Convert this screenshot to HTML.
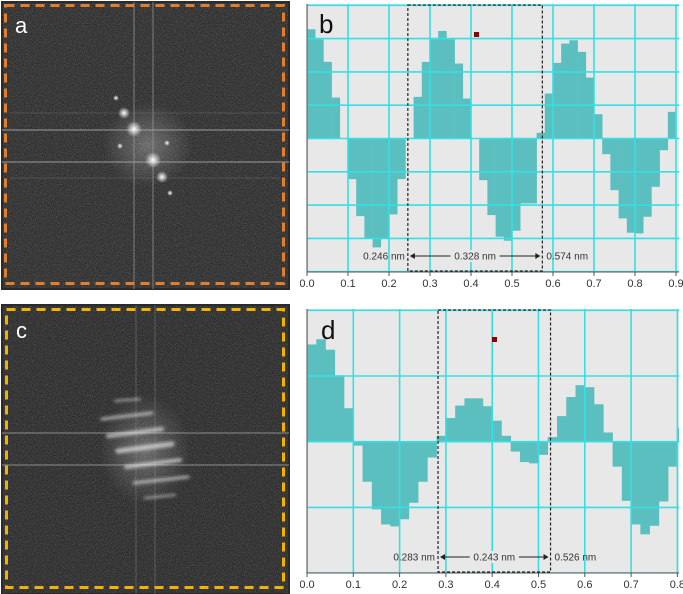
<!DOCTYPE html>
<html><head><meta charset="utf-8"><style>
html,body{margin:0;padding:0;background:#fff;width:683px;height:594px;overflow:hidden}
svg{display:block;font-family:"Liberation Sans",sans-serif}
</style></head><body>
<svg id="root" width="683" height="594" viewBox="0 0 683 594">
<defs>
<filter id="noise" x="0" y="0" width="100%" height="100%">
<feTurbulence type="fractalNoise" baseFrequency="0.9" numOctaves="2" seed="3"/>
<feColorMatrix type="matrix" values="0 0 0 0 0  0 0 0 0 0  0 0 0 0 0  0.9 0 0 0 -0.35"/>
</filter>
<filter id="noiseW" x="0" y="0" width="100%" height="100%">
<feTurbulence type="fractalNoise" baseFrequency="0.9" numOctaves="2" seed="7"/>
<feColorMatrix type="matrix" values="0 0 0 0 1  0 0 0 0 1  0 0 0 0 1  0.9 0 0 0 -0.42"/>
</filter>
<filter id="soft" x="-20%" y="-20%" width="140%" height="140%"><feGaussianBlur stdDeviation="1.6"/></filter>
<radialGradient id="glowA"><stop offset="0" stop-color="#fff" stop-opacity="0.28"/><stop offset="1" stop-color="#fff" stop-opacity="0"/></radialGradient>
<radialGradient id="spot"><stop offset="0" stop-color="#fff" stop-opacity="1"/><stop offset="0.4" stop-color="#fff" stop-opacity="0.6"/><stop offset="1" stop-color="#fff" stop-opacity="0"/></radialGradient>
<clipPath id="clipB"><rect x="307" y="4" width="372" height="268"/></clipPath>
<clipPath id="clipD"><rect x="307" y="309" width="372" height="264"/></clipPath>
<clipPath id="clipBT"><rect x="300" y="272" width="383" height="22"/></clipPath>
<clipPath id="clipDT"><rect x="300" y="573" width="383" height="21"/></clipPath>
</defs>

<!-- Panel a -->
<g>
<rect x="1" y="1" width="289" height="289" fill="#2a2a2a"/>
<rect x="3" y="3" width="285" height="285" fill="#3b3b3b"/>
<rect x="3" y="3" width="285" height="285" filter="url(#noise)"/>
<rect x="3" y="3" width="285" height="285" filter="url(#noiseW)" opacity="0.5"/>
<ellipse cx="148" cy="145" rx="45" ry="42" fill="url(#glowA)"/>
<line x1="2" y1="130" x2="289" y2="130" stroke="#aaa" stroke-width="1.3" opacity="0.7"/>
<line x1="2" y1="162" x2="289" y2="162" stroke="#aaa" stroke-width="1.3" opacity="0.7"/>
<line x1="134" y1="2" x2="134" y2="289" stroke="#999" stroke-width="1.2" opacity="0.6"/>
<line x1="153" y1="2" x2="153" y2="289" stroke="#999" stroke-width="1.2" opacity="0.6"/>
<line x1="10" y1="113" x2="280" y2="113" stroke="#888" stroke-width="1" opacity="0.3"/>
<line x1="10" y1="178" x2="280" y2="178" stroke="#888" stroke-width="1" opacity="0.3"/>
<circle cx="124" cy="113" r="6" fill="url(#spot)"/>
<circle cx="134" cy="129" r="8" fill="url(#spot)"/>
<circle cx="153" cy="160" r="8" fill="url(#spot)"/>
<circle cx="162" cy="177" r="6" fill="url(#spot)"/>
<circle cx="116" cy="98" r="3" fill="url(#spot)"/>
<circle cx="170" cy="193" r="3" fill="url(#spot)"/>
<circle cx="120" cy="146" r="3" fill="url(#spot)"/>
<circle cx="167" cy="143" r="3" fill="url(#spot)"/>
<rect x="5.5" y="5.5" width="278" height="278" fill="none" stroke="#e07f2d" stroke-width="3" stroke-dasharray="9,6"/>
<text x="15" y="33" font-size="22" fill="#fff">a</text>
</g>

<!-- Panel c -->
<g>
<rect x="1" y="304" width="289" height="290" fill="#2a2a2a"/>
<rect x="3" y="306" width="285" height="287" fill="#383838"/>
<rect x="3" y="306" width="285" height="287" filter="url(#noise)"/>
<rect x="3" y="306" width="285" height="287" filter="url(#noiseW)" opacity="0.5"/>
<ellipse cx="145" cy="450" rx="45" ry="55" fill="url(#glowA)"/>
<line x1="2" y1="433" x2="289" y2="433" stroke="#aaa" stroke-width="1.2" opacity="0.6"/>
<line x1="2" y1="465" x2="289" y2="465" stroke="#aaa" stroke-width="1.2" opacity="0.6"/>
<line x1="136" y1="305" x2="136" y2="594" stroke="#888" stroke-width="1.5" opacity="0.3"/>
<line x1="155" y1="305" x2="155" y2="594" stroke="#888" stroke-width="1.5" opacity="0.3"/>
<g stroke="#fff" stroke-linecap="round" opacity="0.6" filter="url(#soft)">
<line x1="102" y1="419" x2="152" y2="413" stroke-width="3"/>
<line x1="108" y1="436" x2="162" y2="429" stroke-width="4"/>
<line x1="118" y1="451" x2="172" y2="444" stroke-width="5"/>
<line x1="126" y1="467" x2="180" y2="460" stroke-width="4"/>
<line x1="134" y1="483" x2="188" y2="477" stroke-width="3"/>
<line x1="145" y1="498" x2="175" y2="495" stroke-width="2"/>
<line x1="115" y1="401" x2="140" y2="399" stroke-width="2"/>
</g>
<rect x="6.5" y="309.5" width="277" height="278" fill="none" stroke="#f0b400" stroke-width="3" stroke-dasharray="9,6"/>
<text x="16" y="338" font-size="22" fill="#fff">c</text>
</g>

<!-- Panel b -->
<g id="panelB">
<rect x="307" y="4" width="372" height="268" fill="#e8e8e8"/>
</g>
<!-- Panel d -->
<g id="panelD">
<rect x="307" y="309" width="372" height="264" fill="#e8e8e8"/>
</g>
</svg>
<script>
// Panel b data (x in nm, bar width 0.02; values in grid units)
const binsB = [0.00,0.02,0.04,0.06,0.08,0.10,0.12,0.14,0.16,0.18,0.20,0.22,0.24,0.26,0.28,0.30,0.32,0.34,0.36,0.38,0.40,0.42,0.44,0.46,0.48,0.50,0.52,0.54,0.56,0.58,0.60,0.62,0.64,0.66,0.68,0.70,0.72,0.74,0.76,0.78,0.80,0.82,0.84,0.86,0.88];
const valuesB = [3.28,2.98,2.3,1.23,0,-1.22,-2.33,-3.0,-3.27,-3.0,-2.28,-1.22,0,1.25,2.3,2.98,3.23,2.98,2.25,1.2,0,-1.25,-2.3,-2.95,-3.07,-2.77,-1.95,-1.95,0.17,1.35,2.27,2.85,2.95,2.6,1.83,0.73,-0.47,-1.55,-2.4,-2.83,-2.85,-2.35,-1.45,-0.35,0.8];
const ticksB = ["0.0","0.1","0.2","0.3","0.4","0.5","0.6","0.7","0.8","0.9"];
const gridYB = [-4,-3,-2,-1,0,1,2,3,4];
const measureB = [0.246,0.574];
const measureLabelsB = ["0.246 nm","0.328 nm","0.574 nm"];

// Panel d data
const binsD = [0.00,0.02,0.04,0.06,0.08,0.10,0.12,0.14,0.16,0.18,0.20,0.22,0.24,0.26,0.28,0.30,0.32,0.34,0.36,0.38,0.40,0.42,0.44,0.46,0.48,0.50,0.52,0.54,0.56,0.58,0.60,0.62,0.64,0.66,0.68,0.70,0.72,0.74,0.76,0.78,0.80];
const valuesD = [1.48,1.56,1.40,1.01,0.51,-0.06,-0.61,-1.03,-1.26,-1.29,-1.18,-0.93,-0.61,-0.24,0.09,0.36,0.55,0.66,0.66,0.54,0.32,0.09,-0.15,-0.31,-0.33,-0.2,0.07,0.39,0.68,0.86,0.83,0.57,0.14,-0.38,-0.9,-1.26,-1.41,-1.28,-0.91,-0.38,0.21];
const ticksD = ["0.0","0.1","0.2","0.3","0.4","0.5","0.6","0.7","0.8"];
const gridYD = [-2,-1,0,1,2];
const measureD = [0.283,0.526];
const measureLabelsD = ["0.283 nm","0.243 nm","0.526 nm"];

const NS="http://www.w3.org/2000/svg";
function mk(tag,attrs,parent){const e=document.createElementNS(NS,tag);for(const k in attrs)e.setAttribute(k,attrs[k]);parent.appendChild(e);return e;}

function drawPanel(cfg){
  const g=document.getElementById(cfg.id);
  const xs=v=>cfg.x0+v*cfg.pxPerNm;
  const ys=v=>cfg.base-v*cfg.unit;
  const plot=mk('g',{'clip-path':'url(#'+cfg.clip+')'},g);
  cfg.bins.forEach((b,i)=>{
    const v=cfg.vals[i]; if(v===0) return;
    const y=Math.min(ys(v),cfg.base), h=Math.abs(ys(v)-cfg.base);
    const r=mk('rect',{x:xs(b),y:y,width:xs(b+0.02)-xs(b)+0.3,height:h,fill:'#5bbfbf'},plot);
    
    
  });
  cfg.ticks.forEach((t,i)=>{
    const x=xs(i*0.1);
    const l=mk('line',{x1:x,y1:cfg.top,x2:x,y2:cfg.bottom,stroke:'#35dfe3','stroke-width':1.6},plot);
    
    
  });
  cfg.gridY.forEach(v=>{
    const y=ys(v);
    const l=mk('line',{x1:cfg.x0,y1:y,x2:cfg.x0+372,y2:y,stroke:'#35dfe3','stroke-width':1.6},plot);
    
    
  });
  mk('line',{x1:cfg.x0,y1:cfg.top,x2:cfg.x0,y2:cfg.bottom,stroke:'#555','stroke-width':1},g);
  mk('line',{x1:cfg.x0,y1:cfg.bottom,x2:cfg.x0+372,y2:cfg.bottom,stroke:'#555','stroke-width':1},g);
  const tg=mk('g',{'clip-path':'url(#'+cfg.tclip+')'},g);
  cfg.ticks.forEach((t,i)=>{
    const x=xs(i*0.1);
    mk('line',{x1:x,y1:cfg.bottom,x2:x,y2:cfg.bottom+4,stroke:'#555'},tg);
    const tx=mk('text',{x:x,y:cfg.bottom+15,'font-size':11,'text-anchor':'middle',fill:'#333'},tg);
    tx.textContent=t;
    
    
  });
  const a=xs(cfg.meas[0]), b=xs(cfg.meas[1]);
  const box=mk('rect',{x:a,y:cfg.top+1,width:b-a,height:cfg.bottom-cfg.top-2,fill:'none',stroke:'#222','stroke-width':1.2,'stroke-dasharray':'3,2'},g);
  
  
  const my=cfg.measY;
  mk('line',{x1:a+3,y1:my,x2:b-3,y2:my,stroke:'#222','stroke-width':1},g);
  mk('path',{d:`M${a+2} ${my} l5 -3 v6z M${b-2} ${my} l-5 -3 v6z`,fill:'#222'},g);
  const l0=mk('text',{x:a-3,y:my+3.5,'font-size':10,'text-anchor':'end',fill:'#333'},g);
  l0.textContent=cfg.mlab[0];
  
  
  const mw=cfg.mlab[1].length*5.4+6;
  mk('rect',{x:(a+b)/2-mw/2,y:my-6,width:mw,height:12,fill:'#e8e8e8'},g);
  const l1=mk('text',{x:(a+b)/2,y:my+3.5,'font-size':10,'text-anchor':'middle',fill:'#333'},g);
  l1.textContent=cfg.mlab[1];
  
  
  const l2=mk('text',{x:b+4,y:my+3.5,'font-size':10,'text-anchor':'start',fill:'#333'},g);
  l2.textContent=cfg.mlab[2];
  
  
  mk('rect',{x:cfg.marker[0],y:cfg.marker[1],width:5,height:5,fill:'#8b0000'},g);
  const pl=mk('text',{x:cfg.label[0],y:cfg.label[1],'font-size':26,fill:'#111'},g);
  pl.textContent=cfg.name;
  
  
}

drawPanel({id:'panelB',clip:'clipB',tclip:'clipBT',x0:307,pxPerNm:410,base:138.5,unit:33.3,top:4,bottom:272,
  bins:binsB,vals:valuesB,ticks:ticksB,gridY:gridYB,meas:measureB,mlab:measureLabelsB,measY:256,marker:[474,32],label:[319,33],name:'b'});
drawPanel({id:'panelD',clip:'clipD',tclip:'clipDT',x0:307,pxPerNm:463,base:441.7,unit:65.7,top:309,bottom:573,
  bins:binsD,vals:valuesD,ticks:ticksD,gridY:gridYD,meas:measureD,mlab:measureLabelsD,measY:557,marker:[492,337],label:[321,339],name:'d'});
</script>
</body></html>
